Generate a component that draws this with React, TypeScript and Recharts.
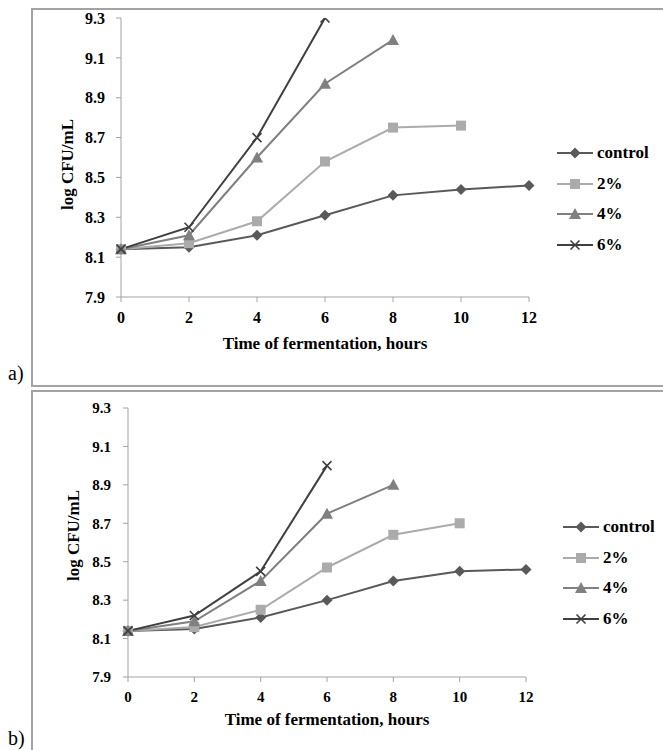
import { Label, Line, LineChart, XAxis, YAxis } from "recharts";

const FONT = '"Liberation Serif", serif';
const AXIS = "#A3A3A3";

const HOURS = [0, 2, 4, 6, 8, 10, 12];
const Y_TICKS = [7.9, 8.1, 8.3, 8.5, 8.7, 8.9, 9.1, 9.3];
const SERIES_NAMES = ["control", "2%", "4%", "6%"];

// panel a)
const A_CONTROL = [8.14, 8.15, 8.21, 8.31, 8.41, 8.44, 8.46];
const A_2 = [8.14, 8.17, 8.28, 8.58, 8.75, 8.76];
const A_4 = [8.14, 8.21, 8.6, 8.97, 9.19];
const A_6 = [8.14, 8.25, 8.7, 9.3];

// panel b)
const B_CONTROL = [8.14, 8.15, 8.21, 8.3, 8.4, 8.45, 8.46];
const B_2 = [8.14, 8.16, 8.25, 8.47, 8.64, 8.7];
const B_4 = [8.14, 8.19, 8.4, 8.75, 8.9];
const B_6 = [8.14, 8.22, 8.45, 9.0];

const KEYS = ["control", "p2", "p4", "p6"];
const COLORS = ["#595959", "#ABABAB", "#808080", "#3F3F3F"];
const SHAPES = ["diamond", "square", "triangle", "cross"];

function buildRows(series: number[][]) {
  return HOURS.map((h, i) => {
    const row: Record<string, number | null> = { hour: h };
    KEYS.forEach((k, j) => {
      row[k] = series[j][i] ?? null;
    });
    return row;
  });
}

function Marker({ shape, x, y, color }: { shape: string; x: number; y: number; color: string }) {
  if (shape === "diamond")
    return <path d={`M${x},${y - 5.5}L${x + 5.5},${y}L${x},${y + 5.5}L${x - 5.5},${y}Z`} fill={color} />;
  if (shape === "square") return <rect x={x - 5} y={y - 5} width={10} height={10} fill={color} />;
  if (shape === "triangle")
    return <path d={`M${x},${y - 6}L${x + 6},${y + 5}L${x - 6},${y + 5}Z`} fill={color} />;
  return (
    <path
      d={`M${x - 4.5},${y - 4.5}L${x + 4.5},${y + 4.5}M${x - 4.5},${y + 4.5}L${x + 4.5},${y - 4.5}`}
      stroke={color}
      strokeWidth={1.6}
      fill="none"
    />
  );
}

function makeDot(shape: string, color: string) {
  return (props: any) => {
    const { cx, cy, index, value } = props;
    if (cx == null || cy == null || value == null) return <g key={`e${index}`} />;
    return (
      <g key={`d${index}`}>
        <Marker shape={shape} x={cx} y={cy} color={color} />
      </g>
    );
  };
}

interface PanelProps {
  series: number[][];
  top: number;
  height: number;
  marginTop: number;
  marginRight: number;
  yWidth: number;
  xHeight: number;
  tickSize: number;
  textSize: number;
  yTickMargin: number;
  xTickMargin: number;
  titleOffset: number;
  yLabelX: number;
  yLabelShift: number;
  legendLeft: number;
  legendTop: number;
  tag: string;
}

function Panel(p: PanelProps) {
  const rows = buildRows(p.series);
  const tick = { fill: "#000", fontSize: p.tickSize, fontWeight: "bold", fontFamily: FONT };
  const textStyle = { fill: "#000", fontSize: p.textSize, fontWeight: "bold", fontFamily: FONT };

  const yLabel = (props: any) => {
    const vb = props.viewBox || {};
    const x = p.yLabelX;
    const y = (vb.y ?? 0) + (vb.height ?? 0) / 2 + p.yLabelShift;
    return (
      <text
        x={x}
        y={y}
        transform={`rotate(-90, ${x}, ${y})`}
        textAnchor="middle"
        dominantBaseline="central"
        style={textStyle}
      >
        log CFU/mL
      </text>
    );
  };

  return (
    <>
      <div
        style={{
          position: "absolute",
          left: 31,
          top: p.top,
          width: 700,
          height: p.height - 2,
          border: `2px solid ${AXIS}`,
        }}
      />
      <div style={{ position: "absolute", left: 31, top: p.top }}>
        <LineChart
          width={632}
          height={p.height}
          data={rows}
          margin={{ top: p.marginTop, right: p.marginRight, bottom: 0, left: 0 }}
        >
          <XAxis
            dataKey="hour"
            type="number"
            domain={[0, 12]}
            ticks={HOURS}
            height={p.xHeight}
            tick={tick}
            tickSize={5}
            tickMargin={p.xTickMargin}
            stroke={AXIS}
            tickLine={{ stroke: AXIS }}
          >
            <Label
              value="Time of fermentation, hours"
              position="insideBottom"
              offset={p.titleOffset}
              style={textStyle}
            />
          </XAxis>
          <YAxis
            type="number"
            domain={[7.9, 9.3]}
            ticks={Y_TICKS}
            width={p.yWidth}
            tick={tick}
            tickFormatter={(v: number) => v.toFixed(1)}
            tickSize={5}
            tickMargin={p.yTickMargin}
            stroke={AXIS}
            tickLine={{ stroke: AXIS }}
            allowDataOverflow
          >
            <Label content={yLabel} />
          </YAxis>
          {KEYS.map((k, j) => (
            <Line
              key={k}
              dataKey={k}
              stroke={COLORS[j]}
              strokeWidth={2}
              dot={makeDot(SHAPES[j], COLORS[j])}
              activeDot={false}
              isAnimationActive={false}
            />
          ))}
        </LineChart>
      </div>
      <div style={{ position: "absolute", left: p.legendLeft, top: p.legendTop }}>
        {SERIES_NAMES.map((name, j) => (
          <div key={name} style={{ display: "flex", alignItems: "center", height: 30.5 }}>
            <svg width={37} height={14}>
              <line x1={0} y1={7} x2={36} y2={7} stroke={COLORS[j]} strokeWidth={2} />
              <Marker shape={SHAPES[j]} x={18} y={7} color={COLORS[j]} />
            </svg>
            <span
              style={{
                marginLeft: 3,
                fontFamily: FONT,
                fontWeight: "bold",
                fontSize: p.textSize,
                color: "#000",
              }}
            >
              {name}
            </span>
          </div>
        ))}
      </div>
      <div
        style={{
          position: "absolute",
          left: 8,
          top: p.top + p.height - 23,
          fontFamily: FONT,
          fontSize: 20,
          color: "#000",
        }}
      >
        {p.tag}
      </div>
    </>
  );
}

export default function App() {
  return (
    <div
      style={{
        position: "absolute",
        left: 0,
        top: 0,
        width: 663,
        height: 750,
        overflow: "hidden",
        background: "#fff",
      }}
    >
      <Panel
        series={[A_CONTROL, A_2, A_4, A_6]}
        top={8}
        height={377}
        marginTop={10}
        marginRight={134}
        yWidth={90}
        xHeight={88}
        tickSize={16}
        textSize={17}
        yTickMargin={11}
        xTickMargin={10}
        titleOffset={36}
        yLabelX={36}
        yLabelShift={7}
        legendLeft={557}
        legendTop={138}
        tag="a)"
      />
      <Panel
        series={[B_CONTROL, B_2, B_4, B_6]}
        top={390}
        height={360}
        marginTop={18}
        marginRight={137}
        yWidth={97}
        xHeight={73}
        tickSize={15}
        textSize={17}
        yTickMargin={12}
        xTickMargin={9}
        titleOffset={25}
        yLabelX={42}
        yLabelShift={-7}
        legendLeft={563}
        legendTop={512}
        tag="b)"
      />
    </div>
  );
}
